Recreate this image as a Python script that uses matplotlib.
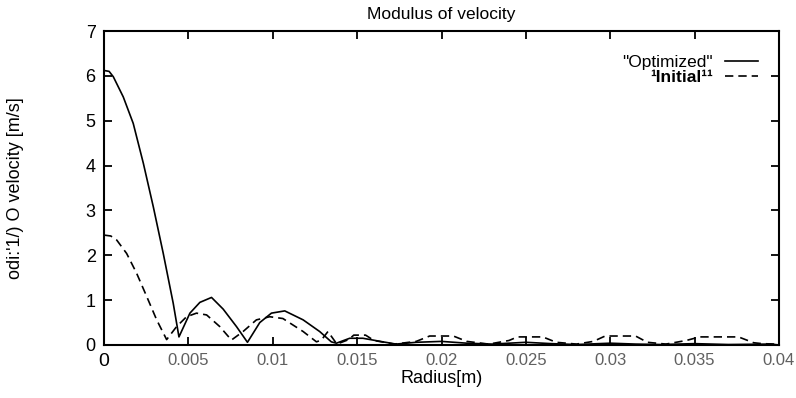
import matplotlib
matplotlib.use("Agg")
import matplotlib.pyplot as plt

# ---- data ----
opt_r = [0.0, 0.0003, 0.00055, 0.00114, 0.00173, 0.00233, 0.00292, 0.00351, 0.0041, 0.00444,
         0.00509, 0.00568, 0.00637, 0.00706, 0.00785, 0.0085, 0.00923, 0.00992, 0.01071, 0.0118,
         0.01278, 0.01347, 0.01377, 0.01456, 0.01534, 0.01653, 0.0173, 0.0185, 0.02, 0.0215,
         0.023, 0.025, 0.0265, 0.028, 0.03, 0.0315, 0.033, 0.035, 0.037, 0.0395, 0.04]
opt_v = [6.12, 6.1, 5.98, 5.53, 4.94, 4.05, 3.08, 2.04, 0.93, 0.18,
         0.71, 0.95, 1.06, 0.8, 0.41, 0.06, 0.5, 0.71, 0.76, 0.56,
         0.3, 0.07, 0.04, 0.15, 0.15, 0.07, 0.02, 0.06, 0.08, 0.04,
         0.02, 0.06, 0.03, 0.01, 0.04, 0.02, 0.01, 0.03, 0.01, 0.02, 0.0]

ini_r = [0.0, 0.0004, 0.00075, 0.00134, 0.00193, 0.00253, 0.00312, 0.00371, 0.0043, 0.00489,
         0.00548, 0.00608, 0.00686, 0.00755, 0.00824, 0.00903, 0.00982, 0.0106, 0.0118, 0.01259,
         0.01288, 0.01327, 0.0138, 0.0145, 0.0148, 0.0155, 0.016, 0.0172, 0.0185, 0.0193,
         0.0207, 0.0215, 0.0228, 0.024, 0.0245, 0.026, 0.0268, 0.028, 0.029, 0.0297,
         0.0315, 0.0322, 0.0333, 0.0345, 0.0353, 0.0376, 0.0385, 0.039, 0.0398]
ini_v = [2.45, 2.43, 2.34, 2.04, 1.6, 1.08, 0.56, 0.12, 0.41, 0.63,
         0.71, 0.67, 0.41, 0.11, 0.3, 0.56, 0.63, 0.59, 0.3, 0.07,
         0.11, 0.3, 0.02, 0.12, 0.22, 0.22, 0.1, 0.02, 0.08, 0.2,
         0.2, 0.08, 0.02, 0.1, 0.18, 0.18, 0.06, 0.02, 0.08, 0.2,
         0.2, 0.06, 0.02, 0.1, 0.18, 0.18, 0.05, 0.03, 0.02]

x_ticks = [0, 0.005, 0.01, 0.015, 0.02, 0.025, 0.03, 0.035, 0.04]
x_labels = ["0", "0.005", "0.01", "0.015", "0.02", "0.025", "0.03", "0.035", "0.04"]
y_ticks = [0, 1, 2, 3, 4, 5, 6, 7]

plt.rcParams['font.family'] = ['Liberation Sans', 'DejaVu Sans']

fig = plt.figure(figsize=(7.96, 3.98), dpi=100)
ax = fig.add_axes([0.1307, 0.1332, 0.8479, 0.7889])

ax.plot(opt_r, opt_v, color='black', lw=1.2, label='"Optimized"')
ax.plot(ini_r, ini_v, color='black', lw=1.2, ls=(0, (5, 3)), label='\u00b9Initial\u00b9\u00b9')

ax.set_xlim(0, 0.04)
ax.set_ylim(0, 7)
ax.set_xticks(x_ticks)
ax.set_xticklabels(x_labels, color='#606060', fontsize=12)
lab0 = ax.get_xticklabels()[0]
lab0.set_color('black')
lab0.set_fontsize(14)
ax.set_yticks(y_ticks)
ax.tick_params(axis='y', labelsize=13, pad=6)
ax.tick_params(axis='x', pad=6)
ax.tick_params(direction='in', length=6, width=1.3, top=True, right=True, color='black')

for s in ax.spines.values():
    s.set_linewidth(1.5)

ax.set_title('Modulus of velocity', fontsize=12.5, pad=9)
ax.set_xlabel('Radius[m)', fontsize=13, labelpad=0)
ax.set_ylabel("odi:'1/) O velocity [m/s]", fontsize=13, labelpad=44)

leg = ax.legend(loc='upper right', frameon=False, markerfirst=False, fontsize=12.5,
                handlelength=1.9, handletextpad=0.7, labelspacing=0.0, borderpad=0,
                bbox_to_anchor=(0.969, 0.925), borderaxespad=0)
leg.get_texts()[1].set_fontweight('bold')

fig.savefig('out.png', dpi=100)
